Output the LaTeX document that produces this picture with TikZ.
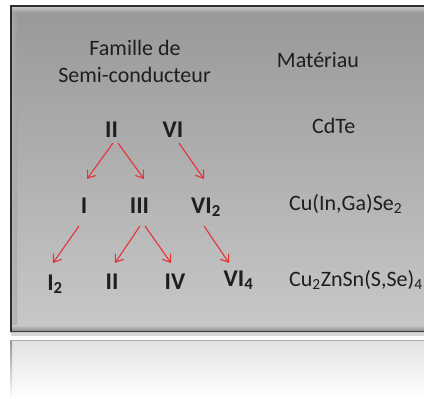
\documentclass[tikz,border=0pt]{standalone}
\usepackage{fontspec}
\setmainfont{Carlito}
\usetikzlibrary{arrows.meta,calc}
\definecolor{boxtop}{RGB}{152,152,152}
\definecolor{boxbot}{RGB}{200,200,200}
\definecolor{arrred}{RGB}{230,50,55}
\definecolor{txt}{RGB}{30,30,30}
\tikzset{
  lbl/.style={inner sep=0pt, anchor=base, text=txt, font=\fontsize{22}{27}\selectfont},
  rom/.style={inner sep=0pt, anchor=base, text=txt, font=\fontsize{24}{28}\selectfont\bfseries},
  mat/.style={inner sep=0pt, anchor=base west, text=txt, font=\fontsize{22}{27}\selectfont},
  arr/.style={draw=arrred, line width=1.1pt, -{Straight Barb[length=7pt,width=10pt,line width=1.1pt]}}
}
\begin{document}
\begin{tikzpicture}[x=1pt,y=-1pt]
\useasboundingbox (0,0) rectangle (424,399);
\begin{scope}
\clip (0,0) rectangle (424,399);
% reflection
\shade[top color={rgb,255:red,226;green,226;blue,226}, bottom color=white] (10,340) rectangle (440,399);
\draw[line width=1pt, color={rgb,255:red,170;green,170;blue,170}] (10.5,399) -- (10.5,340.5) -- (440,340.5);
\shade[top color={rgb,255:red,150;green,150;blue,150}, bottom color=white] (10,341) rectangle (12,399);
% shadow
\fill[color={rgb,255:red,215;green,215;blue,215}] (11,332) rectangle (440,336);
% main box
\shade[top color=boxtop, bottom color=boxbot] (10,5) rectangle (440,332);
\shade[top color={rgb,255:red,195;green,195;blue,195}, bottom color=boxtop] (12,7) rectangle (440,13);
\shade[left color={rgb,255:red,175;green,175;blue,175}, right color={rgb,255:red,160;green,160;blue,160}, opacity=0.6] (12,13) rectangle (17,326);
\shade[top color=boxbot, bottom color={rgb,255:red,140;green,140;blue,140}] (12,325) rectangle (440,331);
\draw[line width=2pt, color={rgb,255:red,45;green,45;blue,45}] (11,332) -- (11,6) -- (440,6);
\draw[line width=1.6pt, color={rgb,255:red,60;green,60;blue,60}] (10,331.5) -- (440,331.5);
\end{scope}
% headings
\node[lbl] (fam1) at (135,55) {Famille de};
\node[lbl] (fam2) at (134.5,82) {Semi-conducteur};
\node[lbl] (mat) at (318,67) {Matériau};
% row 1
\node[rom] (II) at (111.5,137) {II};
\node[rom] (VI) at (173,137) {VI};
\node[mat] (cdte) at (312,133) {CdTe};
% row 2
\node[rom] (I) at (84,213) {I};
\node[rom] (III) at (139.5,213) {III};
\node[rom] (VIb) at (206,213) {VI\textsubscript{2}};
\node[mat] (cigs) at (289,210) {Cu(In,Ga)Se\textsubscript{2}};
% row 3
\node[rom] (Ib) at (55,290) {I\textsubscript{2}};
\node[rom] (IIb) at (112,289) {II};
\node[rom] (IV) at (175,289) {IV};
\node[rom] (VIc) at (238.5,286) {VI\textsubscript{4}};
\node[mat] (czts) at (289,286) {Cu\textsubscript{2}ZnSn(S,Se)\textsubscript{4}};
% arrows
\draw[arr] ($(II.base)+(1.5,6)$) -- ($(I.base)+(3,-34)$);
\draw[arr] ($(II.base)+(6.5,6)$) -- ($(III.base)+(4.5,-34)$);
\draw[arr] ($(VI.base)+(6,6)$) -- ($(VIb.base)+(-2,-34)$);
\draw[arr] ($(I.base)+(-5,13)$) -- ($(Ib.base)+(-2,-27)$);
\draw[arr] ($(III.base)+(0.5,13)$) -- ($(IIb.base)+(3,-26)$);
\draw[arr] ($(III.base)+(5.5,13)$) -- ($(IV.base)+(-4,-26)$);
\draw[arr] ($(VIb.base)+(-2,13)$) -- ($(VIc.base)+(-9.5,-23)$);
\end{tikzpicture}
\end{document}
